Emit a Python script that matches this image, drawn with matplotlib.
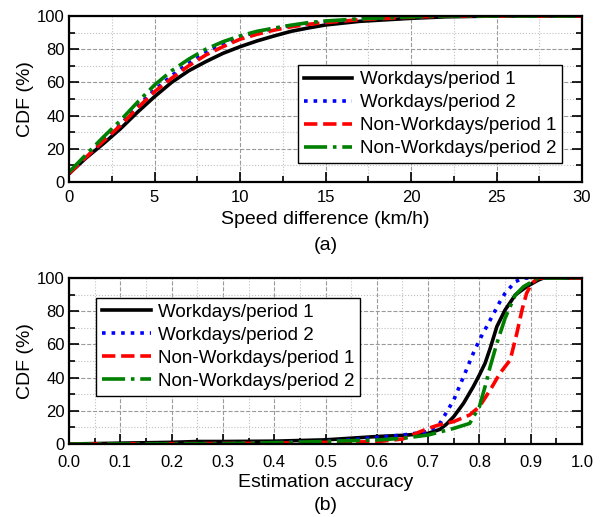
import matplotlib
matplotlib.use("Agg")
import matplotlib.pyplot as plt
from matplotlib.ticker import MultipleLocator

plt.rcParams['font.family'] = ['Liberation Sans', 'DejaVu Sans']

labels = ["Workdays/period 1", "Workdays/period 2",
          "Non-Workdays/period 1", "Non-Workdays/period 2"]
colors = ["black", "blue", "red", "green"]
styles = ["-", ":", "--", "-."]

# Panel (a): speed difference (km/h) vs CDF (%)
speed_x = [0, 1, 2, 3, 4, 5, 6, 7, 8, 9, 10, 11, 12, 13, 14, 15, 17, 20, 22, 25, 30]
speed_w1 = [5, 14.5, 23, 32, 42, 51.4, 60, 67, 72.5, 77.5, 81.5, 85, 88, 90.8, 92.8, 94.6, 96.8, 98.6, 99.5, 100, 100]
speed_w2 = [5, 15, 24.5, 34.5, 45.5, 55.4, 64, 71.5, 78, 83, 87.5, 90.3, 92.5, 94.3, 95.6, 96.5, 98, 99.4, 100, 100, 100]
speed_n1 = [5, 15, 24.5, 34, 44.5, 54.4, 62.5, 70, 76.5, 81.5, 86, 89, 91.5, 93.5, 95, 96, 97.8, 99.3, 100, 100, 100]
speed_n2 = [6, 16.5, 27, 37, 48, 58.4, 67, 74, 80, 84.5, 88, 90.8, 92.7, 94.5, 96, 97, 98.3, 99.5, 100, 100, 100]

# Panel (b): estimation accuracy vs CDF (%)
acc_w1_x = [0, 0.1, 0.2, 0.25, 0.3, 0.4, 0.5, 0.55, 0.6, 0.65, 0.7, 0.723, 0.736, 0.75, 0.769, 0.788, 0.8, 0.811, 0.821, 0.834, 0.85, 0.87, 0.892, 0.915, 0.925, 1.0]
acc_w1_y = [0, 0.5, 1, 1.5, 1.5, 1.7, 2.5, 3.5, 4.5, 5.2, 6.4, 8.8, 12, 16.5, 24.5, 34.5, 41.6, 48.6, 57.6, 70.7, 80.7, 89.8, 94.8, 98.8, 100, 100]
acc_w2_x = [0, 0.3, 0.4, 0.5, 0.55, 0.6, 0.65, 0.7, 0.723, 0.75, 0.769, 0.788, 0.8, 0.821, 0.84, 0.85, 0.87, 0.886, 1.0]
acc_w2_y = [0, 0.3, 0.8, 1.5, 2.5, 4, 5.4, 7.4, 12.4, 26.5, 40.5, 54.6, 62.6, 74.7, 85.7, 90.8, 97.8, 100, 100]
acc_n1_x = [0, 0.3, 0.4, 0.5, 0.55, 0.6, 0.65, 0.7, 0.72, 0.75, 0.781, 0.8, 0.821, 0.84, 0.86, 0.873, 0.883, 0.892, 0.902, 0.915, 1.0]
acc_n1_y = [0, 0.3, 0.5, 1, 1.2, 1.4, 3, 9.4, 11.4, 13.5, 17.5, 22.5, 32.5, 42.6, 50.6, 66.7, 80.7, 90.8, 96.8, 100, 100]
acc_n2_x = [0, 0.3, 0.4, 0.5, 0.55, 0.6, 0.65, 0.7, 0.75, 0.781, 0.8, 0.811, 0.821, 0.834, 0.85, 0.87, 0.886, 0.915, 1.0]
acc_n2_y = [0, 0.2, 0.8, 1.5, 2, 2.4, 3.4, 5.4, 9.4, 12.4, 22.5, 34.5, 46.6, 60.6, 75.7, 89.8, 94.8, 100, 100]

fig = plt.figure(figsize=(6.05, 5.17), dpi=100)
ax1 = fig.add_axes([69/605, 1-182/517, 513/605, 166/517])
ax2 = fig.add_axes([69/605, 1-444/517, 513/605, 166/517])

def style(ax, xpad):
    ax.grid(which='major', color='#9a9a9a', linestyle='--', linewidth=0.8)
    ax.grid(which='minor', color='#c0c0c0', linestyle=':', linewidth=0.8)
    ax.set_axisbelow(True)
    ax.tick_params(which='both', direction='in', top=False, right=True, labelsize=12)
    ax.tick_params(axis='y', which='both', pad=3)
    ax.tick_params(axis='x', which='both', pad=xpad)
    ax.tick_params(which='major', length=7, width=1.2)
    ax.tick_params(which='minor', length=4, width=1.2)
    for s in ax.spines.values():
        s.set_linewidth(1.6)
    ax.set_ylim(0, 100)
    ax.yaxis.set_major_locator(MultipleLocator(20))
    ax.yaxis.set_minor_locator(MultipleLocator(10))
    ax.set_ylabel("CDF (%)", fontsize=14, labelpad=2)

lw = 2.6
legkw = dict(fontsize=13.5, frameon=True, fancybox=False, edgecolor='black', framealpha=1,
             handlelength=2.6, borderpad=0.3, labelspacing=0.32, handletextpad=0.4,
             borderaxespad=0)

for y, c, ls, lab in zip([speed_w1, speed_w2, speed_n1, speed_n2], colors, styles, labels):
    ax1.plot(speed_x, y, color=c, linestyle=ls, linewidth=lw, label=lab)
ax1.set_xlim(0, 30)
ax1.xaxis.set_major_locator(MultipleLocator(5))
ax1.xaxis.set_minor_locator(MultipleLocator(2.5))
style(ax1, 6)
ax1.set_xlabel("Speed difference (km/h)", fontsize=14, labelpad=4)
leg1 = ax1.legend(loc='lower right', bbox_to_anchor=(0.961, 0.114), **legkw)
leg1.get_frame().set_linewidth(1.0)

series_b = [(acc_w1_x, acc_w1_y), (acc_w2_x, acc_w2_y), (acc_n1_x, acc_n1_y), (acc_n2_x, acc_n2_y)]
for (x, y), c, ls, lab in zip(series_b, colors, styles, labels):
    ax2.plot(x, y, color=c, linestyle=ls, linewidth=lw, label=lab)
ax2.set_xlim(0, 1.0)
ax2.xaxis.set_major_locator(MultipleLocator(0.1))
ax2.xaxis.set_minor_locator(MultipleLocator(0.05))
ax2.xaxis.set_major_formatter(matplotlib.ticker.FormatStrFormatter('%.1f'))
style(ax2, 8)
ax2.set_xlabel("Estimation accuracy", fontsize=14, labelpad=3)
leg2 = ax2.legend(loc='upper left', bbox_to_anchor=(0.053, 0.88), **legkw)
leg2.get_frame().set_linewidth(1.0)

fig.text((69 + 582) / 2 / 605, 1 - 245/517, "(a)", ha='center', va='center', fontsize=14)
fig.text((69 + 582) / 2 / 605, 1 - 506/517, "(b)", ha='center', va='center', fontsize=14)

fig.savefig("out.png", dpi=100)
